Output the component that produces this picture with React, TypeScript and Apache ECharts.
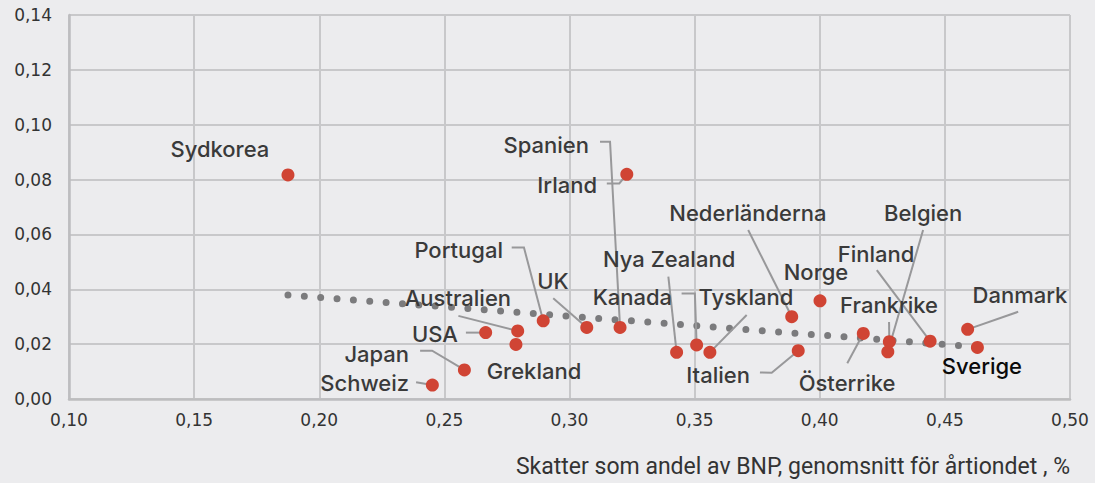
import React, { useEffect, useRef } from "react";
import * as echarts from "echarts";

const countries = ["Sydkorea","Spanien","Irland","Nederländerna","Belgien","Finland","Norge","Frankrike","Danmark","Sverige","Österrike","Italien","Tyskland","Kanada","Nya Zealand","UK","Portugal","Australien","USA","Grekland","Japan","Schweiz"];
const taxShare = [0.1875,0.3202,0.3229,0.3888,0.4272,0.4441,0.4001,0.4278,0.4591,0.4630,0.4174,0.3914,0.3561,0.3508,0.3428,0.3069,0.2895,0.2793,0.2665,0.2786,0.2580,0.2452];
const outcome = [0.0817,0.0261,0.0819,0.0300,0.0172,0.0211,0.0358,0.0209,0.0254,0.0188,0.0239,0.0176,0.0170,0.0197,0.0170,0.0261,0.0285,0.0248,0.0242,0.0199,0.0106,0.0051];

const labelX = [0.1603,0.3078,0.3110,0.3713,0.4413,0.4225,0.3985,0.4277,0.4800,0.4648,0.4109,0.3721,0.3705,0.3410,0.3398,0.2934,0.2734,0.2554,0.2554,0.2858,0.2359,0.2359];
const labelY = [0.0911,0.0926,0.0780,0.0678,0.0678,0.0529,0.0463,0.0343,0.0379,0.0120,0.0058,0.0087,0.0372,0.0372,0.0510,0.0430,0.0543,0.0368,0.0237,0.0102,0.0164,0.0058];
const labelAlign = ["center","right","right","center","center","center","center","center","center","center","center","right","center","right","center","center","right","center","right","center","right","right"];

const leaderBends: number[][][] = [
  [],
  [[0.3122,0.0938],[0.3162,0.0938]],
  [[0.3149,0.0786],[0.3199,0.0786]],
  [[0.3714,0.0616]],
  [[0.4413,0.0616]],
  [[0.4228,0.0470]],
  [],
  [[0.4277,0.0281]],
  [[0.4793,0.0318]],
  [],
  [[0.4110,0.0130]],
  [[0.3761,0.0097],[0.3808,0.0096]],
  [[0.3708,0.0306]],
  [[0.3448,0.0385],[0.3501,0.0385]],
  [[0.3395,0.0446]],
  [[0.2935,0.0367]],
  [[0.2769,0.0552],[0.2818,0.0552]],
  [[0.2556,0.0303]],
  [[0.2586,0.0242]],
  [],
  [[0.2403,0.0176],[0.2451,0.0176]],
  [[0.2387,0.0061]],
];

const trendX = [0.1875, 0.463];
const trendY = [0.0379, 0.0190];

const xTitle = "Skatter som andel av BNP, genomsnitt för årtiondet , %";

const FONT = "Inter, 'Noto Sans', sans-serif";
const AXFONT = "'DejaVu Sans', sans-serif";
const fmt = (v: number) => v.toFixed(2).replace(".", ",");

export default function App() {
  const ref = useRef<HTMLDivElement>(null);
  useEffect(() => {
    if (!ref.current) return;
    const chart = echarts.init(ref.current, null, { renderer: "svg" });
    const points = countries.map((n, i) => [taxShare[i], outcome[i]]);
    const leaders = countries
      .map((n, i) => ({ i, b: leaderBends[i] }))
      .filter((d) => d.b.length > 0)
      .map((d) => ({ coords: [...d.b, [taxShare[d.i], outcome[d.i]]] }));
    const labels = countries.map((n, i) => [labelX[i], labelY[i], i]);

    chart.setOption({
      animation: false,
      backgroundColor: "#ececee",
      grid: { left: 69, right: 25, top: 15, bottom: 84 },
      xAxis: {
        type: "value",
        min: 0.1,
        max: 0.5,
        interval: 0.05,
        axisLine: { show: true, lineStyle: { color: "#bdbdbf", width: 2.5 } },
        axisTick: { show: false },
        splitLine: { show: true, lineStyle: { color: "#c8c8ca", width: 2 } },
        axisLabel: { formatter: fmt, color: "#333", fontSize: 17, fontFamily: AXFONT, margin: 12 },
      },
      yAxis: {
        type: "value",
        min: 0,
        max: 0.14,
        interval: 0.02,
        axisLine: { show: true, lineStyle: { color: "#bdbdbf", width: 2.5 } },
        axisTick: { show: false },
        splitLine: { show: true, lineStyle: { color: "#c8c8ca", width: 2 } },
        axisLabel: { formatter: fmt, color: "#333", fontSize: 17, fontFamily: AXFONT, margin: 17 },
      },
      graphic: [
        {
          type: "text",
          right: 25,
          top: 455,
          style: { text: xTitle, fontSize: 23, fontFamily: "Roboto, sans-serif", fill: "#333" },
        },
      ],
      series: [
        {
          type: "line",
          data: trendX.map((x, i) => [x, trendY[i]]),
          symbol: "none",
          lineStyle: { color: "#7b7b7d", width: 7, type: [0, 16.4], cap: "round" },
          z: 2,
          silent: true,
        },
        {
          type: "lines",
          coordinateSystem: "cartesian2d",
          polyline: true,
          data: leaders,
          lineStyle: { color: "#98989a", width: 2, opacity: 1 },
          z: 3,
          silent: true,
        },
        {
          type: "scatter",
          data: points,
          symbolSize: 13,
          itemStyle: { color: "#d04434", opacity: 1 },
          z: 4,
        },
        {
          type: "custom",
          data: labels,
          z: 5,
          renderItem: (params: any, api: any) => {
            const p = api.coord([api.value(0), api.value(1)]);
            const i = params.dataIndex;
            const isSe = countries[i] === "Sverige";
            return {
              type: "text",
              x: p[0],
              y: p[1],
              style: {
                text: countries[i],
                align: labelAlign[i],
                verticalAlign: "middle",
                fontSize: 22,
                fontWeight: 500,
                fontFamily: FONT,
                fill: isSe ? "#0a0a0a" : "#3a3a3a",
              },
            };
          },
        },
      ],
    });
    return () => chart.dispose();
  }, []);
  return (
    <div
      ref={ref}
      style={{ position: "fixed", left: 0, top: 0, width: 1095, height: 483 }}
    />
  );
}
